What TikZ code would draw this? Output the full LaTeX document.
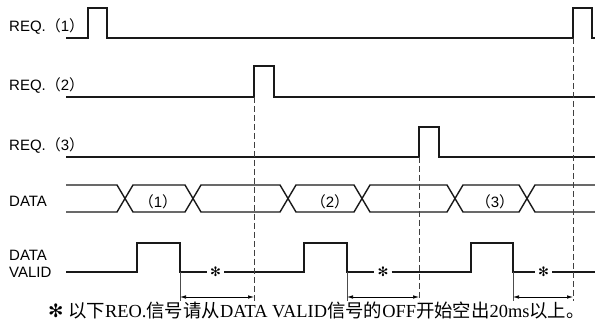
\documentclass[tikz,border=0pt]{standalone}
\usepackage{fontspec}
\setmainfont{Liberation Serif}
\setsansfont{Liberation Sans}
\newfontfamily\zhfont{Noto Sans CJK SC}
\newfontfamily\symfont{DejaVu Sans}
\newcommand{\zh}[1]{{\zhfont #1}}
\usetikzlibrary{arrows.meta}

\tikzset{
  wave/.style={line width=1.4pt, black!90, line join=miter},
  guide/.style={dash pattern=on 6pt off 3pt, line width=0.6pt, black!75},
  drop/.style={line width=0.6pt, black!70},
  dim/.style={{Latex[length=6pt,width=3.5pt]}-{Latex[length=6pt,width=3.5pt]}, line width=0.6pt},
  sig/.style={font=\sffamily\fontsize{15}{17}\selectfont, anchor=base west, inner sep=0pt},
  busval/.style={font=\sffamily\fontsize{15}{17}\selectfont, anchor=base, inner sep=0pt},
  gapstar/.style={font=\symfont\fontsize{13}{13}\selectfont, inner sep=3pt},
}

\begin{document}
\begin{tikzpicture}[x=1pt, y=-1pt]

    \useasboundingbox (0,0) rectangle (595,323);

    % Signal names
    \node[sig] (lreq1) at (9,32)  {REQ.\zh{（}1\zh{）}};
    \node[sig] (lreq2) at (9,91)  {REQ.\zh{（}2\zh{）}};
    \node[sig] (lreq3) at (9,151) {REQ.\zh{（}3\zh{）}};
    \node[sig] (ldata) at (9,207) {DATA};
    \node[sig] (ldv1)  at (9,261) {DATA};
    \node[sig] (ldv2)  at (9,278) {VALID};

    % Request pulses
    \coordinate (r1) at (573,38);
    \coordinate (r2) at (254,97);
    \coordinate (r3) at (419,157);
    \draw[wave] (66,38) -- (88,38) -- (88,8) -- (107,8) -- (107,38)
                -- (r1) -- (573,8) -- (592,8) -- (592,38) -- (595,38);
    \draw[wave] (66,97) -- (r2) -- (254,66) -- (274,66) -- (274,97) -- (595,97);
    \draw[wave] (66,157) -- (r3) -- (419,127) -- (439,127) -- (439,157) -- (595,157);

    % Data bus
    \draw[wave] (66,185) -- (117,185) -- (133,212) -- (185,212) -- (201,185)
                -- (280,185) -- (296,212) -- (354,212) -- (370,185)
                -- (447,185) -- (463,212) -- (519,212) -- (535,185) -- (595,185);
    \draw[wave] (66,212) -- (117,212) -- (133,185) -- (185,185) -- (201,212)
                -- (280,212) -- (296,185) -- (354,185) -- (370,212)
                -- (447,212) -- (463,185) -- (519,185) -- (535,212) -- (595,212);
    \node[busval] (d1) at (158,208) {\zh{（}1\zh{）}};
    \node[busval] (d2) at (330,208) {\zh{（}2\zh{）}};
    \node[busval] (d3) at (495,208) {\zh{（}3\zh{）}};

    % Data valid with gaps
    \node[gapstar] (s1) at (215.5,272) {✻};
    \node[gapstar] (s2) at (383,272) {✻};
    \node[gapstar] (s3) at (543.5,272) {✻};
    \coordinate (f1) at (180,272);
    \coordinate (f2) at (347,272);
    \coordinate (f3) at (513,272);
    \draw[wave] (66,272) -- (137,272) -- (137,243) -- (180,243) -- (f1) -- (s1.west);
    \draw[wave] (s1.east) -- (304,272) -- (304,243) -- (347,243) -- (f2) -- (s2.west);
    \draw[wave] (s2.east) -- (471,272) -- (471,243) -- (513,243) -- (f3) -- (s3.west);
    \draw[wave] (s3.east) -- (595,272);

    % Guides and spacing arrows
    \coordinate (e1) at (180,297);
    \coordinate (e2) at (347,297);
    \coordinate (e3) at (513,297);
    \coordinate (q2) at (254,297);
    \coordinate (q3) at (419,297);
    \coordinate (q1) at (573,297);
    \draw[guide] (r2) -- (254,301);
    \draw[guide] (r3) -- (419,301);
    \draw[guide] (r1) -- (573,301);
    \draw[drop] (f1) -- (180,301);
    \draw[drop] (f2) -- (347,301);
    \draw[drop] (f3) -- (513,301);
    \draw[dim] (e1) -- (q2);
    \draw[dim] (e2) -- (q3);
    \draw[dim] (e3) -- (q1);

    % Note
    \node[anchor=base west, inner sep=0pt, font=\fontsize{18.4}{20}\selectfont] (note) at (48,318)
      {{\symfont ✻}\ \zh{以下}REO.\zh{信号请从}DATA VALID\zh{信号的}OFF\zh{开始空出}20ms\zh{以上。}};

\end{tikzpicture}
\end{document}
